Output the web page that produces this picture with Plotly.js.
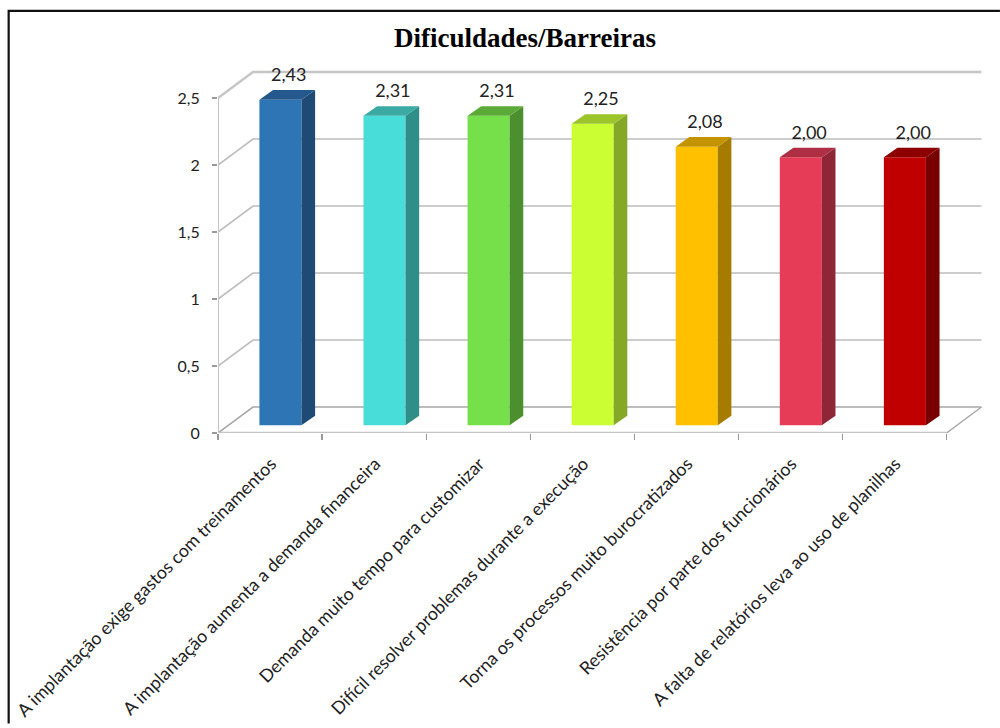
<!DOCTYPE html>
<html>
<head>
<meta charset="utf-8">
<script src="https://cdn.plot.ly/plotly-3.0.1.min.js"></script>
<style>html,body{margin:0;padding:0;background:#fff}#chart{width:1000px;height:728px}</style>
</head>
<body>
<div id="chart"></div>
<script>
const categories = [
  "A implantação exige gastos com treinamentos",
  "A implantação aumenta a demanda financeira",
  "Demanda muito tempo para customizar",
  "Difícil resolver problemas durante a execução",
  "Torna os processos muito burocratizados",
  "Resistência por parte dos funcionários",
  "A falta de relatórios leva ao uso de planilhas"
];
const values = [2.43, 2.31, 2.31, 2.25, 2.08, 2.00, 2.00];
const frontColors = ["#2E75B6", "#48DDD8", "#76E04A", "#CCFF33", "#FFC000", "#E63C58", "#C00000"];
const sideColors  = ["#1F4A75", "#2F8F88", "#4C8F2E", "#86A829", "#A67C00", "#8F2638", "#780000"];
const topColors   = ["#25588C", "#3AAAA3", "#5BAA38", "#9CC42B", "#C49400", "#AE2E44", "#8C0000"];
const yTicks = [0, 0.5, 1, 1.5, 2, 2.5];
const yTickLabels = ["0", "0,5", "1", "1,5", "2", "2,5"];

// Oblique projection of the box: depth of the floor and of each bar, in axis units.
const wallDx = 0.336, wallDy = 0.194;
const barDx = 0.131, barDy = 0.072;
const barBase = 0.057, barOffset = 0.6, barWidth = 0.404;
const xEnd = categories.length;

const centers = categories.map((_, i) => i + barOffset);

const traces = [{
  type: "bar",
  x: centers, y: values, base: barBase, width: barWidth,
  marker: {color: frontColors, line: {width: 0}},
  hoverinfo: "skip", showlegend: false
}];

function face(xs, ys, color) {
  traces.push({
    type: "scatter", mode: "lines", x: xs, y: ys, fill: "toself",
    fillcolor: color, line: {width: 0, color: color},
    hoverinfo: "skip", showlegend: false
  });
}

values.forEach((v, i) => {
  const l = centers[i] - barWidth / 2, r = centers[i] + barWidth / 2, t = barBase + v;
  face([r, r + barDx, r + barDx, r, r],
       [barBase, barBase + barDy, t + barDy, t, barBase], sideColors[i]);
  face([l, l + barDx, r + barDx, r, l],
       [t, t + barDy, t + barDy, t, t], topColors[i]);
});

// Value labels above each bar, on the secondary x axis that also carries the category text.
traces.push({
  type: "scatter", mode: "text", xaxis: "x2",
  x: centers.map(c => c + 0.08),
  y: values.map(v => v + barBase + barDy + 0.1),
  text: values.map(v => v.toFixed(2).replace(".", ",")),
  textposition: "middle center",
  textfont: {family: "Lato, sans-serif", size: 18, color: "#222"},
  cliponaxis: false, hoverinfo: "skip", showlegend: false
});

const grid = yTicks.map((v, i) => ({
  type: "path", layer: "below", xref: "x", yref: "y",
  path: `M0,${v} L${wallDx},${v + wallDy} L${xEnd + wallDx},${v + wallDy}`,
  line: {color: i === yTicks.length - 1 ? "#C6C6C6" : (i === 0 ? "#A8A8A8" : "#BDBDBD"),
         width: i === yTicks.length - 1 ? 2.5 : 1.6}
}));

const shapes = grid.concat([
  // Floor front edge and right edge, left edge of the box
  {type: "path", layer: "below", xref: "x", yref: "y",
   path: `M0,0 L${xEnd},0`, line: {color: "#C4C4C4", width: 2.5}},
  {type: "path", layer: "below", xref: "x", yref: "y",
   path: `M${xEnd},0 L${xEnd + wallDx},${wallDy}`, line: {color: "#A8A8A8", width: 1.5}},
  {type: "path", layer: "below", xref: "x", yref: "y",
   path: `M0,0 L0,${yTicks[yTicks.length - 1]}`, line: {color: "#C4C4C4", width: 2}},
  // Outer frame along the top and the left
  {type: "path", layer: "above", xref: "paper", yref: "paper",
   path: "M-0.274,-0.80 L-0.274,1.163 L1.0235,1.163",
   line: {color: "#111", width: 2.2}}
]);

const layout = {
  width: 1000, height: 728,
  margin: {l: 217.5, r: 18, t: 70, b: 295, pad: 0},
  paper_bgcolor: "#fff", plot_bgcolor: "rgba(0,0,0,0)",
  showlegend: false,
  title: {
    text: "<b>Dificuldades/Barreiras</b>",
    font: {family: "Liberation Serif, serif", size: 27, color: "#000"},
    x: 0.525, xanchor: "center", y: 0.948, yanchor: "middle"
  },
  xaxis: {
    range: [0, 7.341], tickmode: "array",
    tickvals: categories.map((_, i) => i).concat([xEnd]),
    ticktext: categories.map(() => "").concat([""]),
    ticks: "outside", ticklen: 6, tickwidth: 1.2, tickcolor: "#999",
    showgrid: false, zeroline: false, showline: false, fixedrange: true
  },
  xaxis2: {
    overlaying: "x", anchor: "y", side: "bottom",
    range: [0, 7.341], tickmode: "array",
    tickvals: centers.map(c => c - 0.09), ticktext: categories, tickangle: -45,
    ticks: "", tickfont: {family: "Lato, sans-serif", size: 17.9, color: "#222"},
    ticklabelstandoff: 16,
    showgrid: false, zeroline: false, showline: false, automargin: false, fixedrange: true
  },
  yaxis: {
    range: [0, 2.709], tickmode: "array", tickvals: yTicks, ticktext: yTickLabels,
    ticks: "outside", ticklen: 5, tickwidth: 1.2, tickcolor: "#999",
    tickfont: {family: "Lato, sans-serif", size: 16, color: "#222"},
    ticklabelstandoff: 9,
    showgrid: false, zeroline: false, showline: false, automargin: false, fixedrange: true
  },
  shapes: shapes
};

Plotly.newPlot("chart", traces, layout, {displayModeBar: false, staticPlot: true});
</script>
</body>
</html>
